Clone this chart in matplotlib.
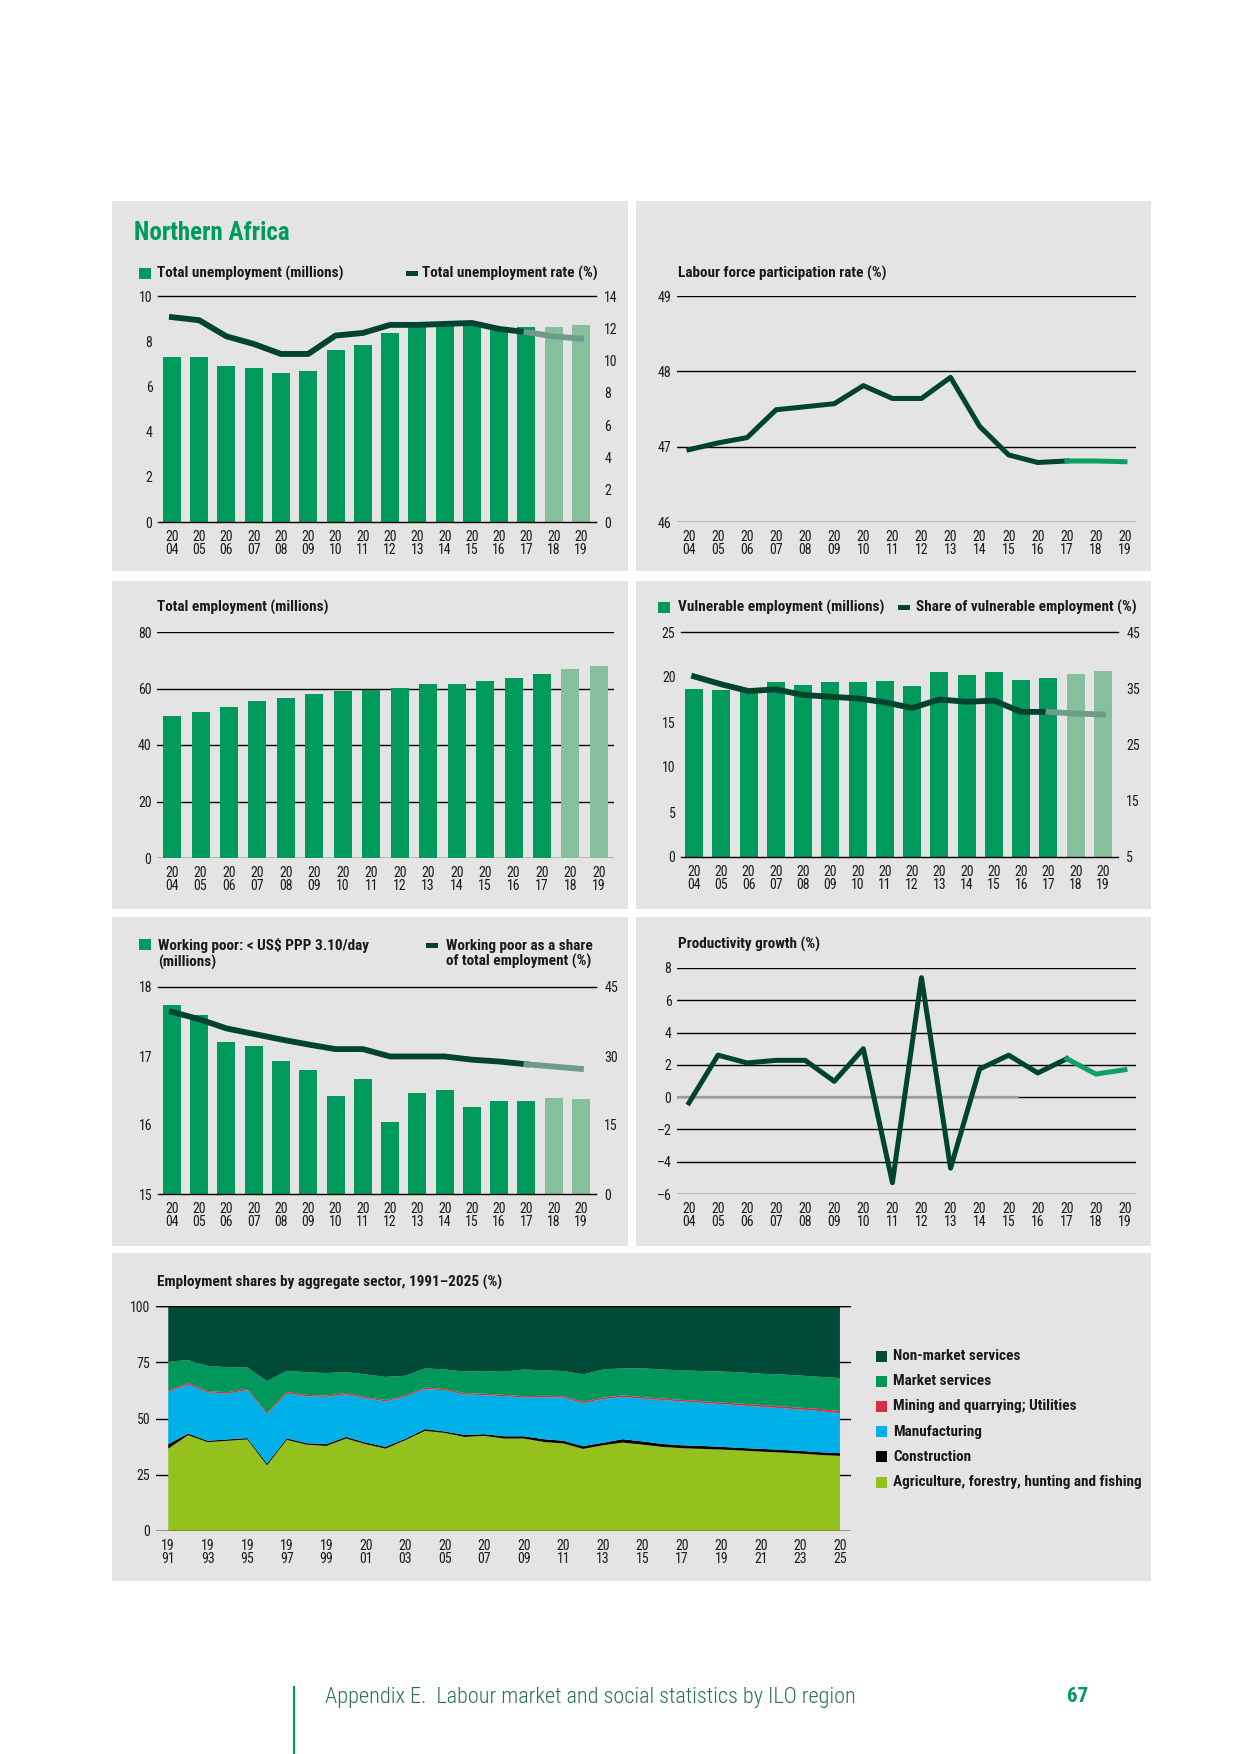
import matplotlib
matplotlib.use('Agg')
import matplotlib.pyplot as plt
from matplotlib.patches import Rectangle
from matplotlib.lines import Line2D
from matplotlib.ticker import FuncFormatter

plt.rcParams['font.family'] = ['Noto Sans Condensed', 'Roboto Condensed', 'Open Sans Condensed',
                               'Noto Sans', 'Liberation Sans', 'DejaVu Sans']
plt.rcParams['font.stretch'] = 'condensed'

W, H = 1240, 1754

# ---- data ----
years = list(range(2004, 2020))
year_labels = ['20\n%02d' % (y % 100) for y in years]
first_proj = 2018      # projected bars
line_proj = 2017       # projected part of lines starts here

unemp = [7.32, 7.32, 6.92, 6.83, 6.61, 6.70, 7.63, 7.85, 8.38, 8.65, 8.75, 8.8, 8.6, 8.64, 8.64, 8.73]
unemp_rate = [12.69, 12.5, 11.5, 11.03, 10.41, 10.41, 11.55, 11.71, 12.21, 12.21, 12.27, 12.33,
              11.96, 11.76, 11.5, 11.36]
lfpr = [46.96, 47.05, 47.12, 47.49, 47.53, 47.57, 47.81, 47.64, 47.64, 47.92, 47.27, 46.89,
        46.79, 46.81, 46.81, 46.80]
employment = [50.4, 51.8, 53.6, 55.7, 56.8, 58.2, 59.2, 59.6, 60.2, 61.7, 61.7, 62.8, 63.8, 65.3, 67.0, 68.1]
vuln = [18.65, 18.54, 18.5, 19.42, 19.09, 19.42, 19.42, 19.53, 18.98, 20.53, 20.2, 20.53, 19.65,
        19.87, 20.31, 20.64]
vuln_share = [37.1, 35.7, 34.5, 34.8, 33.8, 33.5, 33.2, 32.5, 31.5, 33.0, 32.6, 32.8, 30.8, 30.8,
              30.5, 30.35]
poor = [17.74, 17.6, 17.20, 17.14, 16.93, 16.80, 16.42, 16.67, 16.04, 16.46, 16.51, 16.26, 16.35,
        16.35, 16.39, 16.38]
poor_share = [39.6, 38.0, 36.0, 34.8, 33.6, 32.5, 31.5, 31.5, 29.9, 29.9, 29.9, 29.2, 28.8, 28.2,
              27.7, 27.2]
productivity = [-0.36, 2.6, 2.12, 2.28, 2.28, 0.98, 3.0, -5.3, 7.4, -4.4, 1.74, 2.6, 1.5, 2.38, 1.43, 1.7]

sec_years = list(range(1991, 2026))
agri = [36.6, 42.6, 39.5, 40.1, 40.7, 29.2, 40.5, 38.4, 37.8, 41.1, 38.6, 36.6, 40.4, 44.5, 43.6,
        41.8, 42.3, 41.1, 41.1, 39.6, 38.9, 36.5, 38.1, 39.3, 38.4, 37.4, 36.8, 36.5, 36.2, 35.8,
        35.3, 34.9, 34.4, 33.8, 33.4]
constr = [2.0, 0.7, 0.6, 0.6, 0.6, 0.8, 0.7, 0.6, 0.8, 0.7, 0.7, 0.8, 0.6, 0.8, 0.6, 0.9, 0.7, 1.0,
          1.0, 1.2, 1.2, 1.2, 1.1, 1.5, 1.4, 1.3, 1.3, 1.3, 1.2, 1.1, 1.2, 1.2, 1.2, 1.2, 1.2]
manuf = [23.3, 21.8, 21.5, 20.4, 21.3, 21.9, 19.9, 20.9, 21.0, 18.9, 19.6, 20.2, 18.6, 17.8, 18.3,
         18.0, 17.4, 17.8, 17.2, 18.7, 19.2, 19.1, 19.4, 18.8, 19.0, 19.5, 19.5, 19.2, 19.0, 18.9,
         18.7, 18.5, 18.4, 18.3, 17.8]
mining = [0.6, 0.7, 0.6, 0.6, 0.6, 0.6, 0.7, 0.6, 0.6, 0.7, 0.6, 0.6, 0.6, 0.6, 0.6, 0.6, 0.6, 0.6,
          0.6, 0.6, 0.6, 0.7, 0.7, 0.7, 0.7, 0.7, 0.7, 0.7, 0.7, 0.8, 0.8, 0.8, 0.8, 0.9, 0.9]
market = [12.7, 10.2, 11.2, 11.1, 9.5, 14.1, 9.4, 10.1, 10.0, 9.2, 10.1, 10.3, 8.8, 8.6, 8.7, 9.6,
          10.1, 10.3, 11.9, 11.3, 11.2, 12.1, 12.5, 12.0, 12.8, 12.9, 13.1, 13.4, 13.8, 13.9, 13.9,
          14.2, 14.3, 14.3, 14.7]
nonmarket = [24.8, 24.0, 26.6, 27.2, 27.3, 33.4, 28.8, 29.4, 29.8, 29.4, 30.4, 31.5, 31.0, 27.7,
             28.2, 29.1, 28.9, 29.2, 28.2, 28.6, 28.9, 30.4, 28.2, 27.7, 27.7, 28.2, 28.6, 28.9,
             29.1, 29.5, 30.1, 30.4, 30.9, 31.5, 32.0]
sector_names = ['Non-market services', 'Market services', 'Mining and quarrying; Utilities',
                'Manufacturing', 'Construction', 'Agriculture, forestry, hunting and fishing']

# ---- colours ----
BG = '#e3e4e3'
GREEN = '#009a5d'
GREEN_LIGHT = '#86bf9c'
DARK = '#00432f'
PROJ_GREY = '#6f9c8a'
PROJ_GREEN = '#0fa064'
TXT = '#1a1a1a'
sector_colors = ['#004a37', '#00985a', '#d62e44', '#00b0e8', '#000000', '#95c11f']

LBL = 11     # panel title size
TCK = 10     # tick label size

fig = plt.figure(figsize=(W / 100, H / 100), dpi=100)
fig.patch.set_facecolor('white')


def box(l, t, r, b):
    return [l / W, 1 - b / H, (r - l) / W, (b - t) / H]


def panel(l, t, r, b):
    fig.add_artist(Rectangle((l / W, 1 - b / H), (r - l) / W, (b - t) / H,
                             transform=fig.transFigure, facecolor=BG, edgecolor='none', zorder=-5))


def ftext(x, y, s, **kw):
    kw.setdefault('va', 'center')
    kw.setdefault('color', TXT)
    return fig.text(x / W, 1 - y / H, s, **kw)


def key(x, y, w, h, color):
    fig.add_artist(Rectangle((x / W, 1 - (y + h) / H), w / W, h / H,
                             transform=fig.transFigure, facecolor=color, edgecolor='none'))


def new_ax(l, t, r, b):
    ax = fig.add_axes(box(l, t, r, b))
    ax.set_facecolor('none')
    for s in ax.spines.values():
        s.set_visible(False)
    ax.tick_params(axis='y', length=0, pad=4, labelsize=TCK, labelcolor=TXT)
    ax.set_xticks(years)
    ax.set_xticklabels(year_labels, linespacing=0.9)
    ax.tick_params(axis='x', length=0, pad=6, labelsize=TCK, labelcolor=TXT)
    return ax


def twin(ax):
    ax2 = ax.twinx()
    ax2.set_facecolor('none')
    for s in ax2.spines.values():
        s.set_visible(False)
    ax2.tick_params(axis='y', length=0, pad=6, labelsize=TCK, labelcolor=TXT)
    return ax2


def frame_only(ax):
    # top and bottom rules only
    for s in ('top', 'bottom'):
        ax.spines[s].set_visible(True)
        ax.spines[s].set_color('black')
        ax.spines[s].set_linewidth(1.0)


def full_grid(ax):
    ax.grid(axis='y', color='black', linewidth=1.0)
    ax.set_axisbelow(True)


def split_line(ax, xs, ys, proj_color, lw):
    k = xs.index(line_proj)
    ax.plot(xs[:k + 1], ys[:k + 1], color=DARK, lw=lw, solid_joinstyle='round', zorder=4)
    ax.plot(xs[k:], ys[k:], color=proj_color, lw=lw, solid_joinstyle='round', zorder=4)


bar_colors = [GREEN if y < first_proj else GREEN_LIGHT for y in years]
dash = lambda v, p: ('%g' % v).replace('-', '\u2013')

# ---- panel backgrounds ----
panel(112, 201, 628, 571)
panel(636, 201, 1151, 571)
panel(112, 581, 628, 909)
panel(636, 581, 1151, 909)
panel(112, 917, 628, 1246)
panel(636, 917, 1151, 1246)
panel(112, 1253, 1151, 1581)

ftext(134, 233, 'Northern Africa', fontsize=18, fontweight='bold', color=GREEN)

# ---- 1: unemployment ----
ax = new_ax(158, 296, 596, 522)
frame_only(ax)
ax.bar(years, unemp, width=0.66, color=bar_colors, zorder=2)
ax.set_ylim(0, 10)
ax.set_yticks(range(0, 11, 2))
ax.set_xlim(2003.49, 2019.55)
ax2 = twin(ax)
split_line(ax2, years, unemp_rate, PROJ_GREY, 4.2)
ax2.set_ylim(0, 14)
ax2.set_yticks(range(0, 15, 2))
key(139, 268, 12, 11, GREEN)
ftext(157, 273, 'Total unemployment (millions)', fontsize=LBL, fontweight='bold')
key(406, 271, 12, 5, DARK)
ftext(422, 273, 'Total unemployment rate (%)', fontsize=LBL, fontweight='bold')

# ---- 2: labour force participation ----
ax = new_ax(677, 296, 1136, 522)
full_grid(ax)
split_line(ax, years, lfpr, PROJ_GREEN, 3.6)
ax.set_ylim(46, 49)
ax.set_yticks([46, 47, 48, 49])
ax.set_xlim(2003.59, 2019.38)
ftext(678, 273, 'Labour force participation rate (%)', fontsize=LBL, fontweight='bold')

# ---- 3: total employment ----
ax = new_ax(157, 632, 614, 858)
full_grid(ax)
ax.bar(years, employment, width=0.63, color=bar_colors, zorder=2)
ax.set_ylim(0, 80)
ax.set_yticks(range(0, 81, 20))
ax.set_xlim(2003.47, 2019.53)
ftext(157, 607, 'Total employment (millions)', fontsize=LBL, fontweight='bold')

# ---- 4: vulnerable employment ----
ax = new_ax(681, 632, 1118, 857)
frame_only(ax)
ax.bar(years, vuln, width=0.66, color=bar_colors, zorder=2)
ax.set_ylim(0, 25)
ax.set_yticks(range(0, 26, 5))
ax.set_xlim(2003.52, 2019.55)
ax2 = twin(ax)
split_line(ax2, years, vuln_share, PROJ_GREY, 4.2)
ax2.set_ylim(5, 45)
ax2.set_yticks(range(5, 46, 10))
key(658, 602, 12, 11, GREEN)
ftext(678, 607, 'Vulnerable employment (millions)', fontsize=LBL, fontweight='bold')
key(898, 605, 12, 5, DARK)
ftext(916, 607, 'Share of vulnerable employment (%)', fontsize=LBL, fontweight='bold')

# ---- 5: working poor ----
ax = new_ax(158, 987, 596, 1194)
frame_only(ax)
ax.bar(years, poor, width=0.66, color=bar_colors, zorder=2)
ax.set_ylim(15, 18)
ax.set_yticks([15, 16, 17, 18])
ax.set_xlim(2003.49, 2019.55)
ax2 = twin(ax)
split_line(ax2, years, poor_share, PROJ_GREY, 4.2)
ax2.set_ylim(0, 45)
ax2.set_yticks([0, 15, 30, 45])
key(139, 939, 12, 11, GREEN)
ftext(158, 954, 'Working poor: < US\\$ PPP 3.10/day\n(millions)', fontsize=LBL,
      fontweight='bold', linespacing=1.15)
key(426, 943, 12, 5, DARK)
ftext(446, 954, 'Working poor as a share\nof total employment (%)', fontsize=LBL,
      fontweight='bold', linespacing=1.15)

# ---- 6: productivity growth ----
ax = new_ax(677, 968, 1136, 1194)
full_grid(ax)
ax.axhline(0, xmax=0.743, color='#9a9a9a', lw=1.6, zorder=1.5)
split_line(ax, years, productivity, PROJ_GREEN, 3.6)
ax.set_ylim(-6, 8)
ax.set_yticks(range(-6, 9, 2))
ax.yaxis.set_major_formatter(FuncFormatter(dash))
ax.set_xlim(2003.59, 2019.38)
ftext(678, 944, 'Productivity growth (%)', fontsize=LBL, fontweight='bold')

# ---- 7: employment shares by sector ----
ax = fig.add_axes(box(156, 1306, 851, 1531))
ax.set_facecolor('none')
for s in ax.spines.values():
    s.set_visible(False)
ax.grid(axis='y', color='black', linewidth=1.0)
ax.set_axisbelow(True)
ax.stackplot(sec_years, agri, constr, manuf, mining, market, nonmarket,
             colors=sector_colors[::-1], linewidth=0, zorder=2)
ax.axhline(100, color='black', lw=1.0, zorder=3)
ax.axhline(0, color='black', lw=1.0, zorder=3)
ax.set_ylim(0, 100)
ax.set_yticks([0, 25, 50, 75, 100])
ax.set_xlim(1990.38, 2025.56)
odd = sec_years[::2]
ax.set_xticks(odd)
ax.set_xticklabels(['%d\n%02d' % (y // 100, y % 100) for y in odd], linespacing=0.9)
ax.tick_params(axis='both', length=0, labelsize=TCK, labelcolor=TXT)
ax.tick_params(axis='x', pad=6)
ax.tick_params(axis='y', pad=4)
ftext(157, 1282, 'Employment shares by aggregate sector, 1991\u20132025 (%)', fontsize=LBL,
      fontweight='bold')
for i, (name, c) in enumerate(zip(sector_names, sector_colors)):
    y = 1356 + i * 25.2
    key(876, y - 5.5, 11, 11, c)
    ftext(893, y, name, fontsize=LBL, fontweight='bold')

# ---- footer ----
fig.add_artist(Line2D([294 / W, 294 / W], [1 - 1687 / H, 0], transform=fig.transFigure,
                      color=GREEN, lw=1.5))
ftext(325, 1697, 'Appendix E.  Labour market and social statistics by ILO region', fontsize=16,
      fontweight='light', color='#2b6e55')
ftext(1078, 1697, '67', fontsize=15, fontweight='bold', color=GREEN, ha='center')

fig.savefig('out.png', dpi=100, facecolor='white')
